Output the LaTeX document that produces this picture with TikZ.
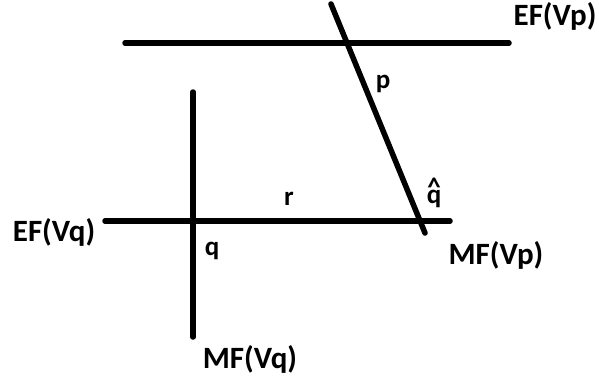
\documentclass[tikz,border=0pt]{standalone}
\usepackage{fontspec}
\setmainfont{Carlito}
\usetikzlibrary{positioning,calc}

\begin{document}
\begin{tikzpicture}[
  x=1pt, y=-1pt,
  fieldline/.style={draw,line width=5.5pt,line cap=round},
  every node/.style = {font=\fontsize{31}{33}\selectfont\bfseries, inner sep=0pt},
  small/.style={font=\fontsize{27}{29}\selectfont\bfseries}
  ]

\useasboundingbox (0,0) rectangle (599,383);

% lines
\coordinate (efp-a) at (125,43);
\coordinate (efp-b) at (509,43);
\coordinate (slant-a) at (331,4);
\coordinate (slant-b) at (425,233);
\coordinate (efq-a) at (105,221);
\coordinate (efq-b) at (450,221);
\coordinate (mfq-a) at (193,92);
\coordinate (mfq-b) at (193,337);

\draw[fieldline] (efp-a) -- (efp-b);
\draw[fieldline] (slant-a) -- (slant-b);
\draw[fieldline] (efq-a) -- (efq-b);
\draw[fieldline] (mfq-a) -- (mfq-b);

% labels
\node (EFVp) at (555,16) {EF(Vp)};
\node (EFVq) at (54,232) {EF(Vq)};
\node (MFVq) at (250,359) {MF(Vq)};
\node (MFVp) at (496,255) {MF(Vp)};
\node[small] (p) at (383,84) {p};
\node[small] (q) at (212,251) {q};
\node[small] (r) at (289,199) {r};
\node[small] (qhat) at (434,193) {\ooalign{\hfil\raisebox{7pt}{\textasciicircum}\hfil\cr q\cr}};

\end{tikzpicture}
\end{document}
